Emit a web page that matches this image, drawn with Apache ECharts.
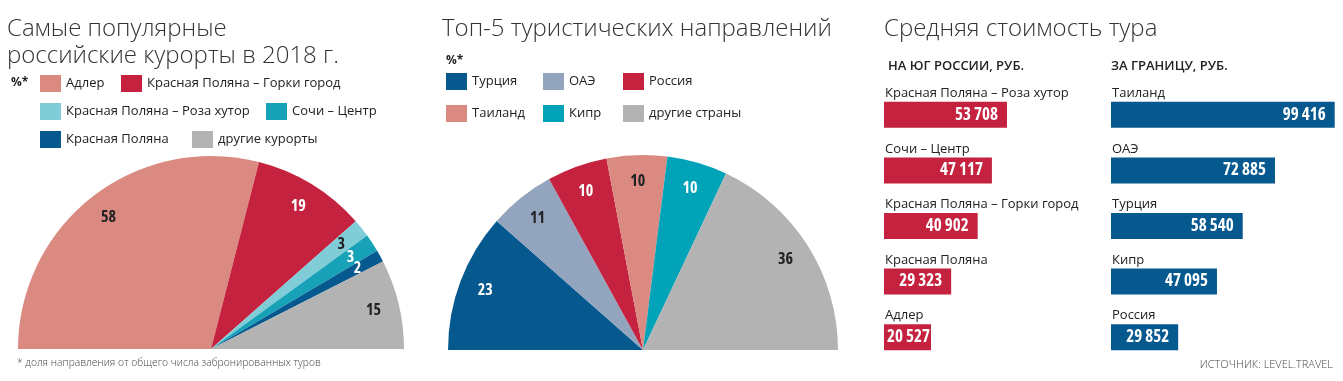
<!DOCTYPE html>
<html><head><meta charset="utf-8">
<script src="https://cdn.jsdelivr.net/npm/echarts@6/dist/echarts.min.js"></script>
<style>html,body{margin:0;padding:0;background:#fff}#c{width:1343px;height:381px}</style>
</head><body><div id="c"></div>
<script>
// ---- data ----
const resortNames = ['Адлер', 'Красная Поляна – Горки город', 'Красная Поляна – Роза хутор', 'Сочи – Центр', 'Красная Поляна', 'другие курорты'];
const resortShares = [58, 19, 3, 3, 2, 15];
const destNames = ['Турция', 'ОАЭ', 'Россия', 'Таиланд', 'Кипр', 'другие страны'];
const destShares = [23, 11, 10, 10, 10, 36];
const southNames = ['Красная Поляна – Роза хутор', 'Сочи – Центр', 'Красная Поляна – Горки город', 'Красная Поляна', 'Адлер'];
const southPrices = [53708, 47117, 40902, 29323, 20527];
const abroadNames = ['Таиланд', 'ОАЭ', 'Турция', 'Кипр', 'Россия'];
const abroadPrices = [99416, 72885, 58540, 47095, 29852];

// ---- styles / layout ----
const RED = '#C4223F', BLUE = '#05598F', SALMON = '#DA8A80', GRAY = '#B3B3B3';
const resortColors = [SALMON, RED, '#80CDD8', '#18A2B8', BLUE, GRAY];
const resortLabelColors = ['#222', '#fff', '#222', '#fff', '#fff', '#222'];
const destColors = [BLUE, '#93A5BE', RED, SALMON, '#00A3B8', GRAY];
const destLabelColors = ['#fff', '#222', '#fff', '#222', '#fff', '#222'];
const resortLegendPos = [[40, 75], [121, 75], [40, 103], [266, 103], [40, 131], [192, 131]];
const destLegendPos = [[446, 73], [543, 73], [623, 73], [446, 105], [543, 105], [623, 105]];

const TEXT_FONT = '"Open Sans", "Noto Sans", sans-serif';
const NUM_FONT = '"Open Sans", "Roboto", sans-serif';
const fmt = v => String(v).replace(/\B(?=(\d{3})+(?!\d))/g, ' ');

function legendItems(names, pos) {
  return names.map((n, i) => ({
    left: pos[i][0], top: pos[i][1], padding: 0, itemGap: 0,
    data: [n], icon: 'rect', itemWidth: 21, itemHeight: 17, selectedMode: false,
    textStyle: { fontSize: 13, color: '#222', fontFamily: TEXT_FONT }
  }));
}

function pieSeries(names, values, colors, labelColors, center, r) {
  return [{
    type: 'pie', center: center, radius: [0, r], startAngle: 180, endAngle: 0,
    silent: true, avoidLabelOverlap: false,
    label: { show: false }, labelLine: { show: false },
    data: names.map((n, i) => ({ name: n, value: values[i], itemStyle: { color: colors[i] } }))
  }, {
    type: 'pie', center: center, radius: [r * 0.7, r], startAngle: 180, endAngle: 0,
    silent: true, avoidLabelOverlap: false, minShowLabelAngle: 0,
    labelLayout: { hideOverlap: false },
    itemStyle: { color: 'rgba(0,0,0,0)' },
    label: { show: true, position: 'inside', formatter: '{c}', fontSize: 16, fontWeight: 'bold',
      fontStyle: 'semi-condensed', fontFamily: NUM_FONT, overflow: 'none' },
    labelLine: { show: false },
    data: names.map((n, i) => ({ name: n, value: values[i], label: { color: labelColors[i] } }))
  }];
}

function barParts(gridIndex, names, values, color, max, width) {
  return {
    xAxis: { gridIndex, type: 'value', min: 0, max: max, show: false },
    yAxis: {
      gridIndex, type: 'category', data: names, inverse: true,
      axisLine: { show: false }, axisTick: { show: false }, splitLine: { show: false },
      axisLabel: { inside: true, margin: 1, verticalAlign: 'bottom', padding: [0, 0, 15, 0],
        fontSize: 13, color: '#222', fontFamily: TEXT_FONT }
    },
    series: {
      type: 'bar', xAxisIndex: gridIndex, yAxisIndex: gridIndex, barWidth: 26,
      data: values.map(v => ({ value: v, label: { distance: v / max * width < 52 ? 1 : 9 } })),
      itemStyle: { color: color }, silent: true,
      label: { show: true, position: 'insideRight', color: '#fff', fontSize: 17,
        fontWeight: 'bold', fontStyle: 'condensed', fontFamily: NUM_FONT, formatter: p => fmt(p.value) }
    }
  };
}

const b0 = barParts(0, southNames, southPrices, RED, 60000, 137.4);
const b1 = barParts(1, abroadNames, abroadPrices, BLUE, 100000, 225);

const titleStyle = { fontSize: 24, fontWeight: 300, lineHeight: 27, color: '#333', fontFamily: TEXT_FONT };
const option = {
  animation: false,
  title: [
    { text: 'Самые популярные\nроссийские курорты в 2018 г.', left: 7, top: 16, padding: 0, textStyle: titleStyle },
    { text: '%*', left: 11, top: 77, padding: 0, textStyle: { fontSize: 12, color: '#222', fontFamily: TEXT_FONT } },
    { text: 'Топ-5 туристических направлений', left: 442, top: 16, padding: 0, textStyle: titleStyle },
    { text: '%*', left: 446, top: 55, padding: 0, textStyle: { fontSize: 12, color: '#222', fontFamily: TEXT_FONT } },
    { text: 'Средняя стоимость тура', left: 884, top: 16, padding: 0, textStyle: titleStyle },
    { text: 'НА ЮГ РОССИИ, РУБ.', left: 888, top: 60, padding: 0, textStyle: { fontSize: 13, fontWeight: 600, color: '#222', fontFamily: TEXT_FONT } },
    { text: 'ЗА ГРАНИЦУ, РУБ.', left: 1111, top: 60, padding: 0, textStyle: { fontSize: 13, fontWeight: 600, color: '#222', fontFamily: TEXT_FONT } },
    { text: '* доля направления от общего числа забронированных туров', left: 17, top: 358, padding: 0, textStyle: { fontSize: 10.3, fontWeight: 300, color: '#444', fontFamily: TEXT_FONT } },
    { text: 'ИСТОЧНИК: LEVEL.TRAVEL', right: 10, top: 359, padding: 0, textStyle: { fontSize: 11, fontWeight: 300, color: '#444', fontFamily: TEXT_FONT } }
  ],
  legend: legendItems(resortNames, resortLegendPos).concat(legendItems(destNames, destLegendPos)),
  grid: [
    { left: 884, top: 87, width: 137.4, height: 278 },
    { left: 1111, top: 87, width: 225, height: 278 }
  ],
  xAxis: [b0.xAxis, b1.xAxis],
  yAxis: [b0.yAxis, b1.yAxis],
  series: [
    ...pieSeries(resortNames, resortShares, resortColors, resortLabelColors, [211, 349], 193),
    ...pieSeries(destNames, destShares, destColors, destLabelColors, [643, 350], 195),
    b0.series, b1.series
  ]
};
const chart = echarts.init(document.getElementById('c'), null, { renderer: 'canvas' });
chart.setOption(option);
</script>
</body></html>
